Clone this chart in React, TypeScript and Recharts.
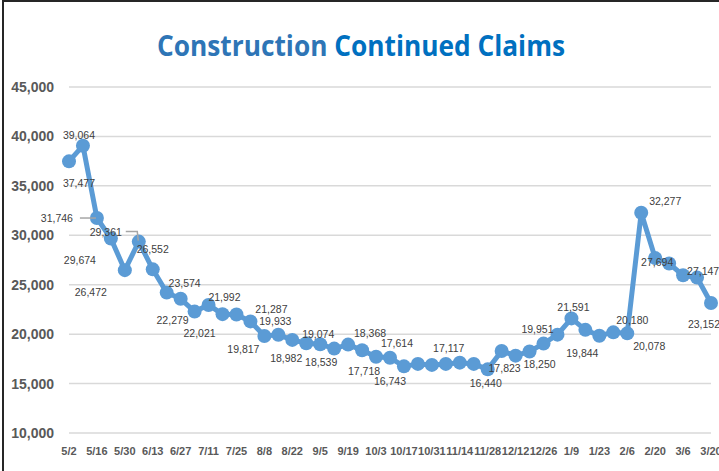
import { LineChart, Line, XAxis, YAxis, CartesianGrid } from 'recharts';

const dates = [
  '5/2', '5/9', '5/16', '5/23', '5/30', '6/6', '6/13', '6/20', '6/27', '7/4', '7/11', '7/18',
  '7/25', '8/1', '8/8', '8/15', '8/22', '8/29', '9/5', '9/12', '9/19', '9/26', '10/3', '10/10',
  '10/17', '10/24', '10/31', '11/7', '11/14', '11/21', '11/28', '12/5', '12/12', '12/19', '12/26', '1/2',
  '1/9', '1/16', '1/23', '1/30', '2/6', '2/13', '2/20', '2/27', '3/6', '3/13', '3/20',
];

const claims = [
  37477, 39064, 31746, 29674, 26472, 29361, 26552, 24200, 23574, 22279, 22950, 22021,
  21992, 21287, 19817, 19933, 19420, 19074, 18982, 18539, 18940, 18368, 17718, 17614,
  16743, 16990, 16890, 16990, 17117, 16990, 16440, 18290, 17823, 18250, 19045, 19951,
  21591, 20435, 19844, 20180, 20078, 32277, 27694, 27147, 25950, 25720, 23152,
];

const yTicks = [10000, 15000, 20000, 25000, 30000, 35000, 40000, 45000];

const data = dates.map((date, i) => ({ date, claims: claims[i] }));

// where each shown data label sits relative to its point (dx, dy)
const labelOffsets: Record<number, [number, number]> = {
  0: [10, 22], 1: [-4, -11], 2: [-40, 0], 3: [-31, 21], 4: [-34, 22], 5: [-33, -10],
  6: [0, -20], 8: [4, -16], 9: [-22, 8], 11: [-23, 19], 12: [-12, -17], 13: [21, -12],
  14: [-21, 13], 15: [-3, -14], 17: [12, -9], 18: [-34, 14], 19: [-13, 13], 21: [8, -17],
  22: [-12, 14], 23: [7, -15], 24: [-14, 15], 28: [-11, -15], 30: [-2, 14], 32: [-11, 12],
  33: [10, 13], 35: [-20, -6], 36: [2, -11], 38: [-17, 17], 39: [19, -12], 40: [22, 13],
  41: [24, -12], 42: [2, 4], 43: [34, 8], 46: [-7, 21],
};

const fmt = (v: number) => v.toLocaleString('en-US');

const BLUE = '#5B9BD5';
const font = '"Liberation Sans", Arial, sans-serif';

function renderLabel(props: any) {
  const { x, y, index, value } = props;
  const off = labelOffsets[index];
  if (!off || x == null || y == null) return null;
  const lx = x + off[0];
  const ly = y + off[1];
  return (
    <g key={`lbl-${index}`}>
      {index === 2 && (
        <polyline points={`${x - 17},${y} ${x - 1},${y}`} fill="none" stroke="#A6A6A6" strokeWidth={1.5} />
      )}
      {index === 5 && (
        <polyline
          points={`${x - 13},${y - 10} ${x - 1.5},${y - 10} ${x - 0.5},${y - 1}`}
          fill="none"
          stroke="#A6A6A6"
          strokeWidth={1.5}
        />
      )}
      <text x={lx} y={ly} textAnchor="middle" dominantBaseline="central" fontSize={10.5} fill="#404040" fontFamily={font}>
        {fmt(value)}
      </text>
    </g>
  );
}

export default function App() {
  return (
    <div style={{ position: 'absolute', left: 0, top: 0, width: 719, height: 471, background: '#fff', overflow: 'hidden' }}>
      <div
        style={{
          position: 'absolute', left: 2, top: 0, width: 730, height: 480,
          borderTop: '2px solid #262626', borderLeft: '2px solid #262626',
        }}
      />
      <svg width={719} height={80} style={{ position: 'absolute', left: 0, top: 0 }}>
        <text
          x={361}
          y={56}
          textAnchor="middle"
          fontSize={28}
          fontWeight="bold"
          fontFamily='"Open Sans", sans-serif'
          textLength={408}
          lengthAdjust="spacingAndGlyphs"
        >
          <tspan fill="#2E75B6">Construction </tspan>
          <tspan fill="#0070C0">Continued Claims</tspan>
        </text>
      </svg>
      <div style={{ position: 'absolute', left: 0, top: 0 }}>
        <LineChart width={719} height={471} data={data} margin={{ top: 87, right: 8, left: 0, bottom: 8 }}>
          <CartesianGrid vertical={false} stroke="#D9D9D9" strokeWidth={1.5} />
          <XAxis
            dataKey="date"
            interval={1}
            tickLine={false}
            axisLine={false}
            tickSize={0}
            tickMargin={14}
            height={30}
            tick={{ fontSize: 11, fontWeight: 'bold', fill: '#595959', fontFamily: font }}
          />
          <YAxis
            domain={[10000, 45000]}
            ticks={yTicks}
            interval={0}
            width={69}
            tickLine={false}
            axisLine={false}
            tickSize={0}
            tickMargin={15}
            tickFormatter={fmt}
            tick={{ fontSize: 14, fontWeight: 'bold', fill: '#595959', fontFamily: font }}
          />
          <Line
            dataKey="claims"
            stroke={BLUE}
            strokeWidth={5}
            dot={{ r: 7, fill: BLUE, stroke: BLUE, strokeWidth: 0 }}
            activeDot={false}
            label={renderLabel}
            isAnimationActive={false}
          />
        </LineChart>
      </div>
    </div>
  );
}
